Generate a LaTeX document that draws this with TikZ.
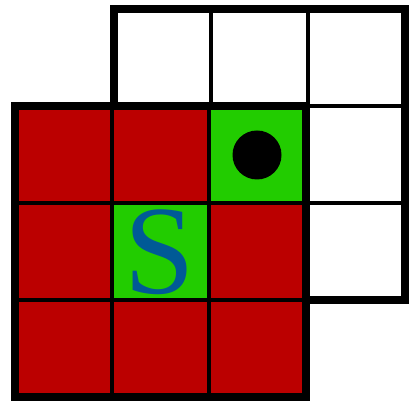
\documentclass[tikz,border=0pt]{standalone}
\usepackage{fontspec}
\newfontfamily\letterfont{Liberation Serif}
\usetikzlibrary{shapes}

\definecolor{wallred}{RGB}{187,0,0}
\definecolor{goalgreen}{RGB}{34,204,0}
\definecolor{letterblue}{RGB}{0,90,150}

\begin{document}
\begin{tikzpicture}[
    cell/.style={draw, line width=0.04cm, minimum size=0.97cm, inner sep=0pt, outer sep=0pt},
    frame/.style={line width=0.08cm}]
  \useasboundingbox (0,0) rectangle (4.2,4.2);
  % back grid
  \foreach \c in {0,1,2}
    \foreach \r in {0,1,2}
      \node[cell, fill=white] (b\c\r) at ({1.62+\c*0.97},{3.62-\r*0.97}) {};
  \draw[frame] (b00.north west) rectangle (b22.south east);
  % front grid
  \foreach \c/\r/\col in {0/0/wallred, 1/0/wallred, 2/0/goalgreen,
                          0/1/wallred, 1/1/goalgreen, 2/1/wallred,
                          0/2/wallred, 1/2/wallred, 2/2/wallred}
    \node[cell, fill=\col] (f\c\r) at ({0.63+\c*0.97},{2.65-\r*0.97}) {};
  \draw[frame] (f00.north west) rectangle (f22.south east);
  % ball and start
  \node[circle, fill=black, minimum size=0.49cm, inner sep=0pt] (ball) at (f20) {};
  \node[text=letterblue, font=\letterfont\fontsize{36}{36}\selectfont] (start) at (f11) {S};
\end{tikzpicture}
\end{document}
